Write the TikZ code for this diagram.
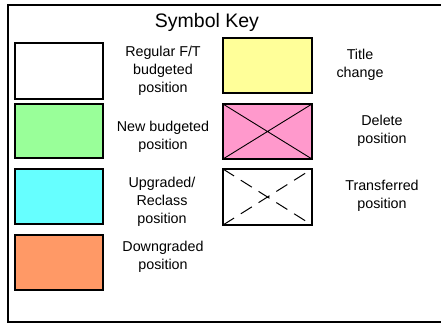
\documentclass[tikz,border=0pt]{standalone}
\usepackage{fontspec}
\setmainfont{Liberation Sans}
\definecolor{newgreen}{RGB}{153,255,153}
\definecolor{upcyan}{RGB}{102,255,255}
\definecolor{downorange}{RGB}{255,153,102}
\definecolor{titleyellow}{RGB}{255,255,153}
\definecolor{delpink}{RGB}{255,153,204}
\tikzset{
  keybox/.style={draw=black,line width=1.2pt},
  keytext/.style={align=center,font=\fontsize{14.3}{18}\selectfont}
}
\begin{document}
\begin{tikzpicture}[x=1pt,y=-1pt]
\useasboundingbox (0,0) rectangle (441,325);
\draw [line width=1.5pt] (8,5) rectangle (445,322);
\node (title) at (207,22) {\fontsize{19.5}{22}\selectfont Symbol Key};
% left column
\filldraw [keybox,fill=white] (15,43) rectangle (103,99);
\filldraw [keybox,fill=newgreen] (15,104) rectangle (103,158);
\filldraw [keybox,fill=upcyan] (15,169) rectangle (103,224);
\filldraw [keybox,fill=downorange] (15,235) rectangle (103,290);
\node [keytext] (regular) at (163,71) {Regular F/T\\budgeted\\position};
\node [keytext] (new) at (163,137) {New budgeted\\position};
\node [keytext] (upgraded) at (162,202) {Upgraded/\\Reclass\\position};
\node [keytext] (down) at (163,257) {Downgraded\\position};
% right column
\filldraw [keybox,fill=titleyellow] (223,38) rectangle (312,93);
\filldraw [keybox,fill=delpink] (223,104) rectangle (312,159);
\draw [line width=0.9pt] (223,104) -- (312,159) (223,159) -- (312,104);
\draw [keybox] (223,169) rectangle (312,225);
\draw [line width=1pt,dash pattern=on 13pt off 8pt] (223,169) -- (312,225) (223,225) -- (312,169);
\node [keytext] (titlechg) at (360,65) {Title\\change};
\node [keytext] (delete) at (382,131) {Delete\\position};
\node [keytext] (transfer) at (382,196) {Transferred\\position};
\end{tikzpicture}
\end{document}
